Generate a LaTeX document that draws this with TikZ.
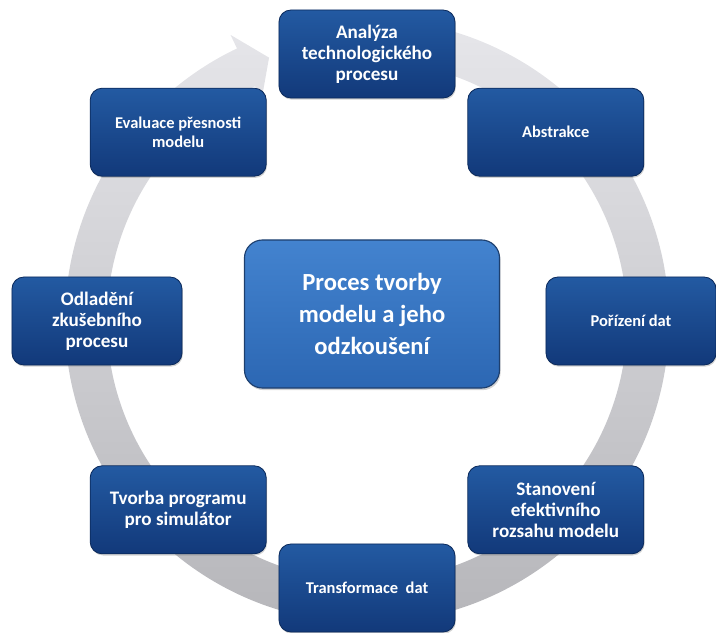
\documentclass[tikz,border=0pt]{standalone}
\usepackage{fontspec}
\setmainfont{Carlito}
\usetikzlibrary{shadows}

\definecolor{krokhore}{HTML}{235AA2}
\definecolor{krokdole}{HTML}{12397A}
\definecolor{krokokraj}{HTML}{0B2A5C}
\definecolor{stredhore}{HTML}{4383CF}
\definecolor{streddole}{HTML}{2C67B3}
\definecolor{stredokraj}{HTML}{1D3F6E}
\definecolor{kruhsvetly}{HTML}{E6E6EA}
\definecolor{kruhtmavy}{HTML}{B4B4B8}

\begin{document}
\begin{tikzpicture}[x=0.025cm, y=0.025cm,
  krok/.style={rectangle, rounded corners=0.3cm, minimum width=4.4cm, minimum height=2.2cm,
    top color=krokhore, bottom color=krokdole, draw=krokokraj, line width=0.6pt,
    text=white, align=center, font=\bfseries\fontsize{11.7}{14}\selectfont,
    drop shadow={shadow xshift=0.6pt, shadow yshift=-1.2pt, opacity=0.35}},
  krokvelky/.style={krok, font=\bfseries\fontsize{13.6}{15}\selectfont},
  stred/.style={rectangle, rounded corners=0.45cm, minimum width=6.375cm, minimum height=3.7cm,
    top color=stredhore, bottom color=streddole, draw=stredokraj, line width=0.8pt,
    text=white, align=center, font=\bfseries\fontsize{17.5}{22.7}\selectfont,
    drop shadow={shadow xshift=0.8pt, shadow yshift=-1.5pt, opacity=0.35}}]
\useasboundingbox (-367,-311) rectangle (349,321);

% kruhova sipka za kroky
\path[top color=kruhsvetly, bottom color=kruhtmavy]
  (80:302) arc[start angle=80, end angle=-244.5, radius=302]
  -- (-244.5:317) -- (-249.6:281) -- (-244.5:245) -- (-244.5:260)
  arc[start angle=-244.5, end angle=80, radius=260] -- cycle;

% kroky po obvodu
\node[krokvelky] (analyza) at (90:267) {Analýza\\technologického\\procesu};
\node[krok] (abstrakce) at (45:267) {Abstrakce};
\node[krok, minimum width=4.25cm] (porizeni) at (0:264) {Pořízení dat};
\node[krokvelky] (stanoveni) at (-45:267) {Stanovení\\efektivního\\rozsahu modelu};
\node[krok] (transformace) at (-90:267) {Transformace~~dat};
\node[krokvelky] (tvorba) at (-135:267) {Tvorba programu\\pro simulátor};
\node[krokvelky, minimum width=4.25cm] (odladeni) at (180:270) {Odladění\\zkušebního\\procesu};
\node[krok] (evaluace) at (135:267) {Evaluace přesnosti\\modelu};

% stred
\node[stred] (proces) at (5,7) {Proces tvorby\\modelu a jeho\\odzkoušení};
\end{tikzpicture}
\end{document}
